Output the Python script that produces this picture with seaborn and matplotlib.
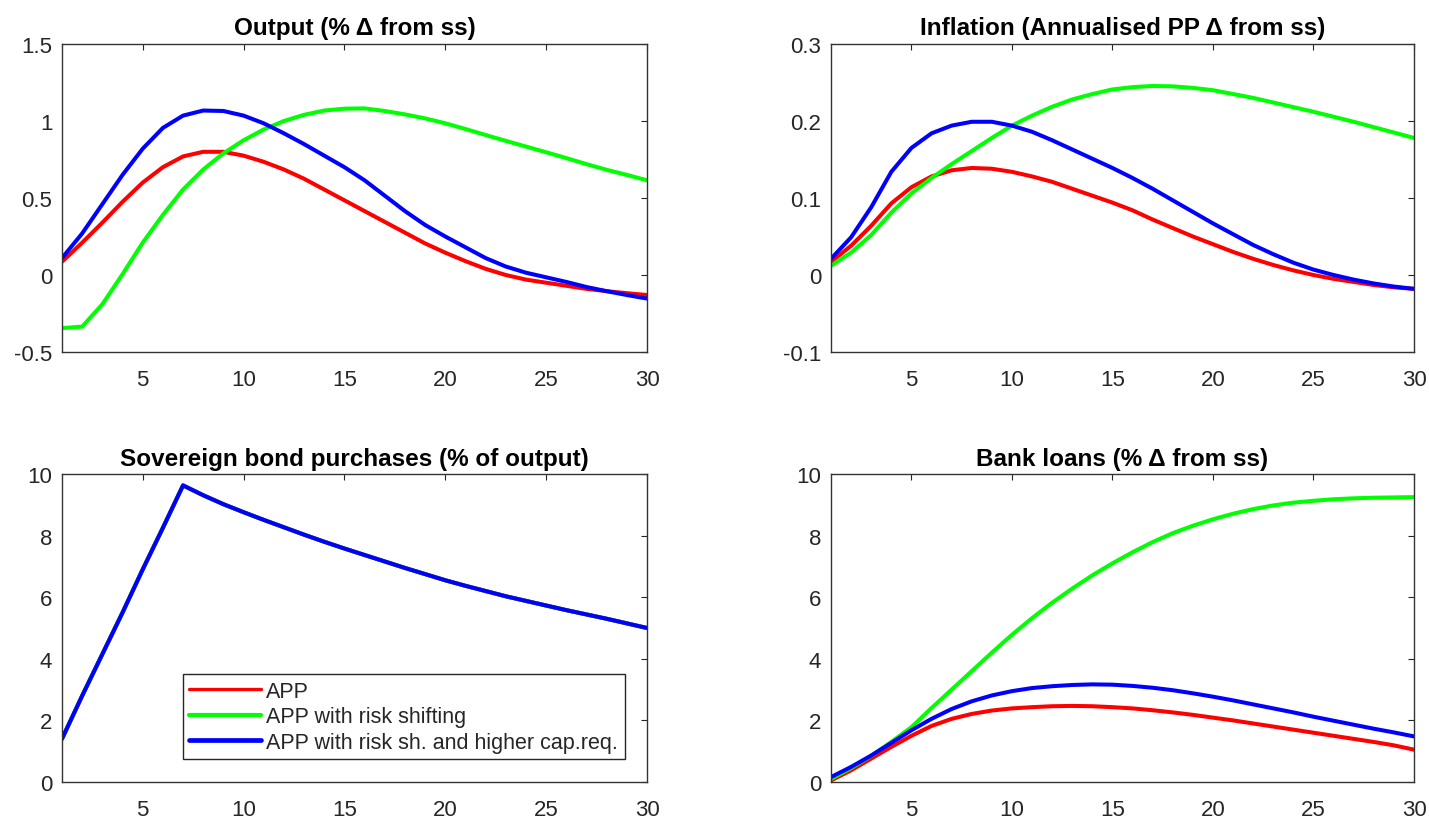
import numpy as np
import pandas as pd
import matplotlib
matplotlib.use("Agg")
import matplotlib.pyplot as plt
import seaborn as sns
from matplotlib.ticker import FuncFormatter, MultipleLocator

# ---------------- data ----------------
periods = list(range(1, 31))
series_names = ["APP", "APP with risk shifting", "APP with risk sh. and higher cap.req."]
series_colors = ["#ff0000", "#00ff00", "#0000ff"]
panel_titles = ["Output (% \u0394 from ss)", "Inflation (Annualised PP \u0394 from ss)",
                "Sovereign bond purchases (% of output)", "Bank loans (% \u0394 from ss)"]

output_app = [0.086, 0.21, 0.34, 0.475, 0.60, 0.70, 0.77, 0.80, 0.80, 0.775,
              0.735, 0.685, 0.625, 0.555, 0.485, 0.415, 0.345, 0.275, 0.205, 0.145,
              0.09, 0.04, 0.0, -0.03, -0.05, -0.07, -0.09, -0.105, -0.118, -0.13]
output_rs = [-0.345, -0.335, -0.19, 0.005, 0.21, 0.39, 0.555, 0.685, 0.79, 0.875,
             0.945, 1.0, 1.04, 1.068, 1.08, 1.082, 1.065, 1.043, 1.017, 0.985,
             0.948, 0.909, 0.871, 0.834, 0.797, 0.759, 0.72, 0.683, 0.65, 0.615]
output_cap = [0.11, 0.27, 0.46, 0.65, 0.82, 0.955, 1.035, 1.068, 1.065, 1.035,
              0.985, 0.92, 0.85, 0.775, 0.70, 0.615, 0.515, 0.415, 0.325, 0.25,
              0.18, 0.11, 0.055, 0.015, -0.015, -0.045, -0.078, -0.105, -0.13, -0.153]

infl_app = [0.017, 0.038, 0.064, 0.093, 0.114, 0.128, 0.136, 0.139, 0.138, 0.134,
            0.128, 0.121, 0.112, 0.103, 0.094, 0.084, 0.072, 0.061, 0.05, 0.04,
            0.03, 0.021, 0.013, 0.006, 0.0, -0.005, -0.009, -0.013, -0.016, -0.018]
infl_rs = [0.012, 0.029, 0.052, 0.081, 0.106, 0.126, 0.144, 0.161, 0.178, 0.194,
           0.207, 0.2185, 0.228, 0.235, 0.241, 0.244, 0.2455, 0.245, 0.243, 0.24,
           0.235, 0.23, 0.224, 0.218, 0.212, 0.2055, 0.199, 0.192, 0.185, 0.178]
infl_cap = [0.021, 0.049, 0.088, 0.134, 0.165, 0.184, 0.194, 0.199, 0.199, 0.194,
            0.186, 0.175, 0.163, 0.151, 0.139, 0.126, 0.112, 0.097, 0.082, 0.067,
            0.053, 0.039, 0.027, 0.016, 0.007, 0.0, -0.006, -0.011, -0.015, -0.018]

bonds = [1.4, 2.8, 4.15, 5.5, 6.9, 8.25, 9.63, 9.31, 9.02, 8.76,
         8.51, 8.27, 8.03, 7.80, 7.58, 7.37, 7.16, 6.95, 6.75, 6.55,
         6.37, 6.20, 6.03, 5.88, 5.73, 5.58, 5.44, 5.30, 5.15, 5.0]
bonds_app = bonds
bonds_rs = bonds
bonds_cap = bonds

loans_app = [0.05, 0.38, 0.76, 1.14, 1.5, 1.82, 2.05, 2.21, 2.32, 2.39,
             2.43, 2.46, 2.47, 2.46, 2.43, 2.39, 2.33, 2.26, 2.18, 2.09,
             2.0, 1.9, 1.8, 1.7, 1.6, 1.5, 1.4, 1.3, 1.19, 1.05]
loans_rs = [0.1, 0.45, 0.85, 1.3, 1.78, 2.4, 3.0, 3.6, 4.2, 4.78,
            5.32, 5.82, 6.28, 6.71, 7.1, 7.46, 7.79, 8.08, 8.32, 8.53,
            8.71, 8.86, 8.98, 9.07, 9.13, 9.18, 9.21, 9.23, 9.24, 9.25]
loans_cap = [0.16, 0.49, 0.86, 1.27, 1.68, 2.05, 2.37, 2.62, 2.81, 2.95,
             3.05, 3.11, 3.15, 3.17, 3.16, 3.12, 3.06, 2.98, 2.88, 2.77,
             2.65, 2.52, 2.39, 2.26, 2.12, 1.99, 1.86, 1.73, 1.61, 1.48]

xticks = [5, 10, 15, 20, 25, 30]
ylims = [(-0.5, 1.5), (-0.1, 0.3), (0, 10), (0, 10)]
ysteps = [0.5, 0.1, 2, 2]

# ---------------- style ----------------
sns.set_theme(style="white")
plt.rcParams["font.family"] = ["Liberation Sans", "DejaVu Sans"]
plt.rcParams["axes.unicode_minus"] = False

fig = plt.figure(figsize=(14.29, 8.2), dpi=100)
W, H = 1429, 820
boxes = [(62, 45, 647, 353), (831, 45, 1414, 353), (62, 475, 647, 783), (831, 475, 1414, 783)]
axes = []
for (x0, y0, x1, y1) in boxes:
    axes.append(fig.add_axes([x0 / W, 1 - y1 / H, (x1 - x0) / W, (y1 - y0) / H]))

panels = [
    [output_app, output_rs, output_cap],
    [infl_app, infl_rs, infl_cap],
    [bonds_app, bonds_rs, bonds_cap],
    [loans_app, loans_rs, loans_cap],
]

fmt = FuncFormatter(lambda v, p: ("%g" % round(v, 6)))

for i, ax in enumerate(axes):
    for vals, name, col in zip(panels[i], series_names, series_colors):
        df = pd.DataFrame({"period": periods, "value": vals})
        sns.lineplot(data=df, x="period", y="value", ax=ax, color=col, lw=2.9,
                     label=name if i == 2 else None, legend=False,
                     solid_joinstyle="round")
    ax.set_xlim(1, 30)
    ax.set_ylim(*ylims[i])
    ax.set_xticks(xticks)
    ax.yaxis.set_major_locator(MultipleLocator(ysteps[i]))
    ax.yaxis.set_major_formatter(fmt)
    ax.set_xlabel("")
    ax.set_ylabel("")
    ax.set_title(panel_titles[i], fontsize=17.5, fontweight="bold",
                 pad=7 if i < 2 else 6.5, color="black")
    ax.tick_params(direction="in", top=True, right=True, length=4.2, width=0.8,
                   labelsize=16, colors="#262626")
    ax.tick_params(axis="x", pad=12)
    ax.tick_params(axis="y", pad=7)
    for s in ax.spines.values():
        s.set_color("#333333")
        s.set_linewidth(1.0)

leg = axes[2].legend(loc="lower left", bbox_to_anchor=(0.2065, 0.0747), fontsize=15.5,
                     frameon=True, fancybox=False, edgecolor="#262626", framealpha=1,
                     handlelength=3.35, handletextpad=0.23, labelspacing=0.2,
                     borderpad=0.3, borderaxespad=0)
leg.get_frame().set_linewidth(1.0)
for line, lw in zip(leg.get_lines(), [2.4, 3.0, 3.4]):
    line.set_linewidth(lw)

fig.savefig("out.png", dpi=100)
